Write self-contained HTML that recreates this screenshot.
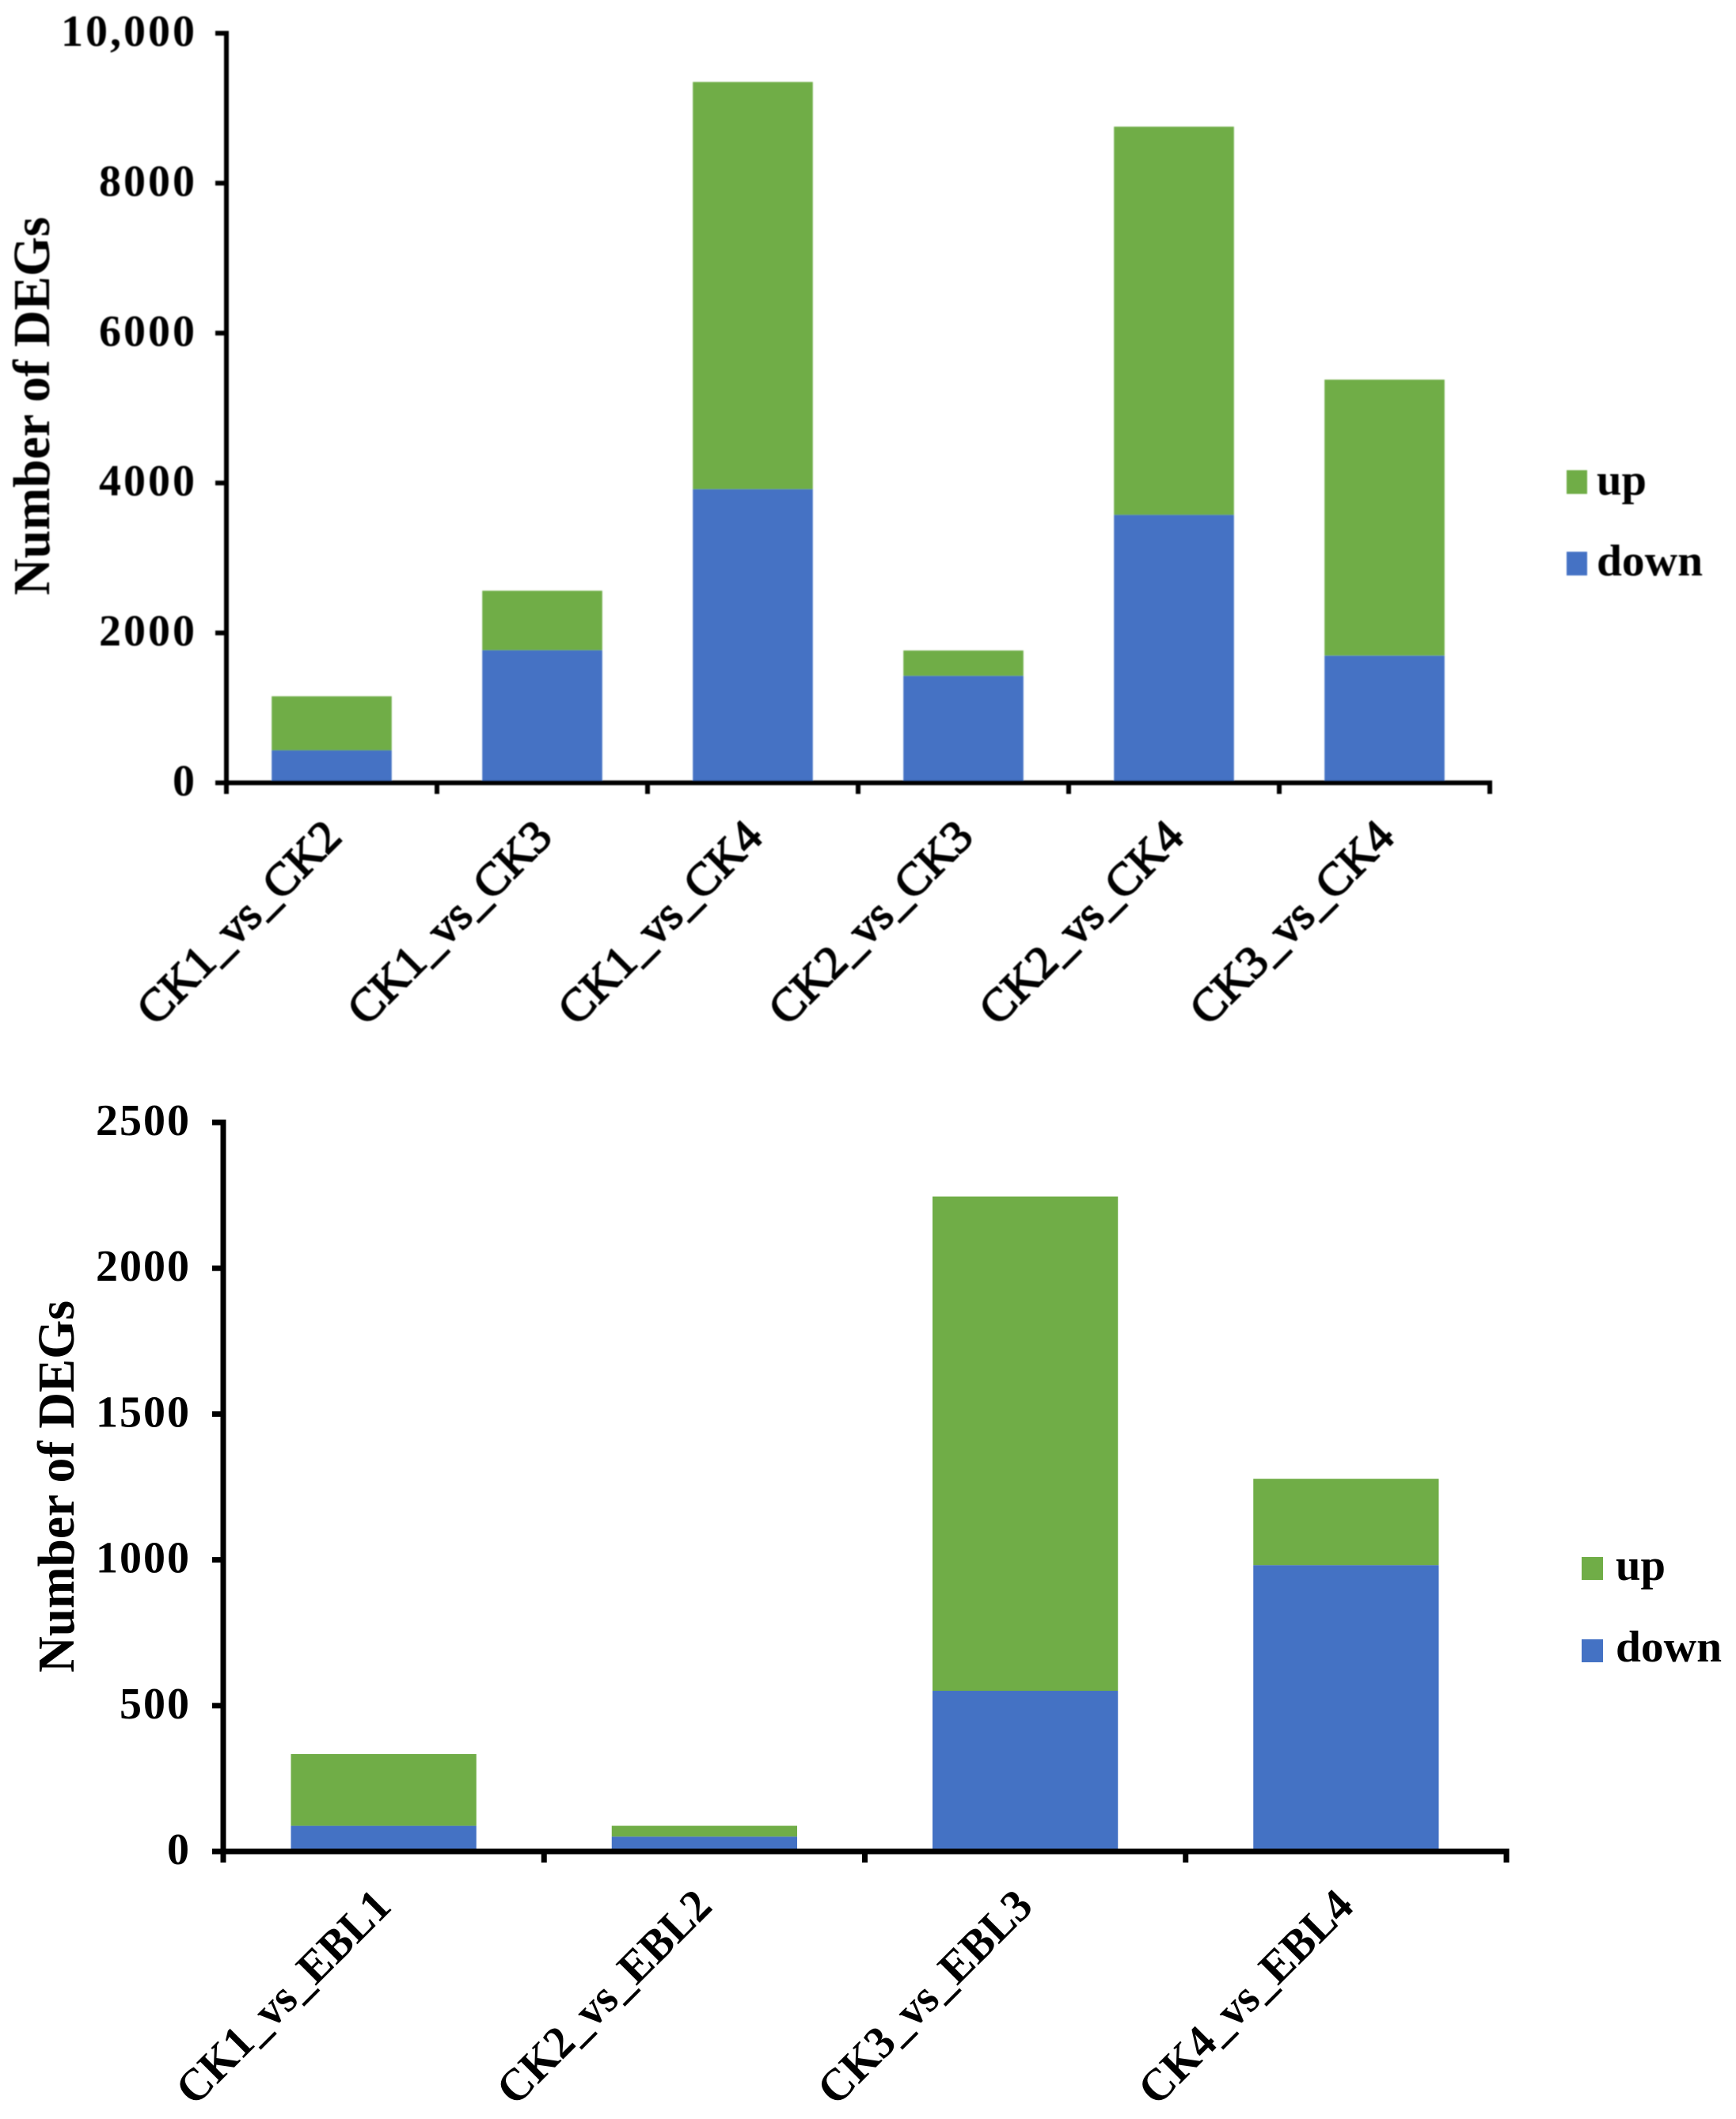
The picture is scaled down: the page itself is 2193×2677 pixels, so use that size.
<!DOCTYPE html>
<html lang="en">
<head>
<meta charset="utf-8">
<title>Number of DEGs</title>
<style>
  html, body { margin: 0; padding: 0; background: #fff; }
  svg { display: block; }
  text { font-family: "Liberation Serif", serif; font-weight: bold; fill: #000; }
</style>
</head>
<body>
<svg id="figure" xmlns="http://www.w3.org/2000/svg" width="2193" height="2677" viewBox="0 0 2193 2677">
  <defs>
    <filter id="soft" x="-2%" y="-2%" width="104%" height="104%"><feGaussianBlur stdDeviation="0.8"/></filter>
  </defs>
  <rect x="0" y="0" width="2193" height="2677" fill="#ffffff"/>

  <g id="chart-top" filter="url(#soft)">
    <text transform="translate(62,752) rotate(-90)" font-size="66" textLength="478" lengthAdjust="spacingAndGlyphs">Number of DEGs</text>
    <g>
      <rect x="1979" y="594" width="26" height="30" fill="#70AD47"/>
      <text x="2017" y="625" font-size="56" textLength="63" lengthAdjust="spacingAndGlyphs">up</text>
      <rect x="1979" y="697" width="26" height="30" fill="#4472C4"/>
      <text x="2017" y="727" font-size="56" textLength="134" lengthAdjust="spacingAndGlyphs">down</text>
    </g>
  </g>

  <g id="chart-bottom">
    <text transform="translate(93,2113) rotate(-90)" font-size="66" textLength="470" lengthAdjust="spacingAndGlyphs">Number of DEGs</text>
    <g>
      <rect x="1998" y="1967" width="27" height="29" fill="#70AD47"/>
      <text x="2041" y="1996" font-size="56" textLength="63" lengthAdjust="spacingAndGlyphs">up</text>
      <rect x="1998" y="2071" width="27" height="29" fill="#4472C4"/>
      <text x="2041" y="2099" font-size="56" textLength="134" lengthAdjust="spacingAndGlyphs">down</text>
    </g>
  </g>
</svg>

<script>
// Top chart data
const topCategories = ['CK1_vs_CK2', 'CK1_vs_CK3', 'CK1_vs_CK4', 'CK2_vs_CK3', 'CK2_vs_CK4', 'CK3_vs_CK4'];
const topDown = [433, 1769, 3917, 1426, 3574, 1697];
const topUp = [722, 794, 5433, 340, 5180, 3682];
const topTickValues = [0, 2000, 4000, 6000, 8000, 10000];
const topTickLabels = ['0', '2000', '4000', '6000', '8000', '10,000'];

// Bottom chart data
const bottomCategories = ['CK1_vs_EBL1', 'CK2_vs_EBL2', 'CK3_vs_EBL3', 'CK4_vs_EBL4'];
const bottomDown = [88, 51, 551, 982];
const bottomUp = [246, 37, 1695, 296];
const bottomTickValues = [0, 500, 1000, 1500, 2000, 2500];
const bottomTickLabels = ['0', '500', '1000', '1500', '2000', '2500'];

const SVG_NS = 'http://www.w3.org/2000/svg';

function make(parent, tag, attrs) {
  const el = document.createElementNS(SVG_NS, tag);
  for (const key in attrs) {
    el.setAttribute(key, attrs[key]);
  }
  parent.appendChild(el);
  return el;
}

function drawChart(groupId, prefix, frame, categories, down, up, tickValues, tickLabels) {
  const group = document.getElementById(groupId);
  const yScale = function (value) {
    return frame.zeroY - (value / frame.maxValue) * (frame.zeroY - frame.topY);
  };
  const band = (frame.rightX - frame.axisX) / categories.length;
  const xCenter = function (index) {
    return frame.axisX + band * (index + 0.5);
  };
  const barWidth = band * frame.barRatio;

  categories.forEach(function (category, i) {
    const baseY = yScale(0);
    const splitY = yScale(down[i]);
    const topY = yScale(down[i] + up[i]);
    const left = xCenter(i) - barWidth / 2;

    const downBar = make(group, 'rect', { x: left, y: splitY, width: barWidth, height: baseY - splitY, fill: '#4472C4' });
    
    

    const upBar = make(group, 'rect', { x: left, y: topY, width: barWidth, height: splitY - topY, fill: '#70AD47' });
    
    

    const labelX = xCenter(i) + frame.labelDx;
    const labelY = frame.zeroY + frame.labelDy;
    const label = make(group, 'text', {
      transform: 'translate(' + labelX + ',' + labelY + ') rotate(-45)',
      'text-anchor': 'end',
      'font-size': frame.labelSize,
      stroke: '#000',
      'stroke-width': frame.labelStroke,
      textLength: frame.labelLength,
      lengthAdjust: 'spacingAndGlyphs'
    });
    label.style.fontWeight = frame.labelWeight;
    label.textContent = category;
    
    
  });

  const yAxis = make(group, 'rect', {
    x: frame.axisX - frame.thick / 2, y: frame.topY - frame.thick / 2,
    width: frame.thick, height: frame.zeroY - frame.topY + frame.thick, fill: '#000'
  });
  
  

  const xAxis = make(group, 'rect', {
    x: frame.axisX - frame.thick / 2, y: frame.zeroY - frame.thick / 2,
    width: frame.rightX - frame.axisX + frame.thick, height: frame.thick, fill: '#000'
  });
  
  

  tickValues.forEach(function (value, i) {
    const y = yScale(value);
    const tick = make(group, 'rect', {
      x: frame.axisX - frame.tickLen, y: y - frame.thick / 2,
      width: frame.tickLen, height: frame.thick, fill: '#000'
    });
    
    

    const text = make(group, 'text', {
      x: frame.tickTextX, y: y + frame.tickTextDy, 'text-anchor': 'end',
      'font-size': frame.tickSize, 'letter-spacing': frame.tickSpacing
    });
    text.textContent = tickLabels[i];
    
    
  });

  for (let i = 0; i <= categories.length; i++) {
    const x = frame.axisX + band * i;
    const tick = make(group, 'rect', {
      x: x - frame.thick / 2, y: frame.zeroY,
      width: frame.thick, height: frame.tickLen, fill: '#000'
    });
    
    
  }
}

drawChart('chart-top', 'top', {
  axisX: 286, rightX: 1882, topY: 42, zeroY: 989, maxValue: 10000, barRatio: 0.57,
  thick: 6, tickLen: 14, tickTextX: 249, tickTextDy: 16, tickSize: 56, tickSpacing: 3,
  labelDx: 15, labelDy: 71, labelSize: 58, labelLength: 336, labelWeight: 'normal', labelStroke: 1.8
}, topCategories, topDown, topUp, topTickValues, topTickLabels);

drawChart('chart-bottom', 'bottom', {
  axisX: 282, rightX: 1903, topY: 1418, zeroY: 2339, maxValue: 2500, barRatio: 0.578,
  thick: 7, tickLen: 14, tickTextX: 241, tickTextDy: 16, tickSize: 56, tickSpacing: 2,
  labelDx: 12, labelDy: 72, labelSize: 58, labelLength: 355, labelWeight: 'bold', labelStroke: 0
}, bottomCategories, bottomDown, bottomUp, bottomTickValues, bottomTickLabels);
</script>
</body>
</html>
